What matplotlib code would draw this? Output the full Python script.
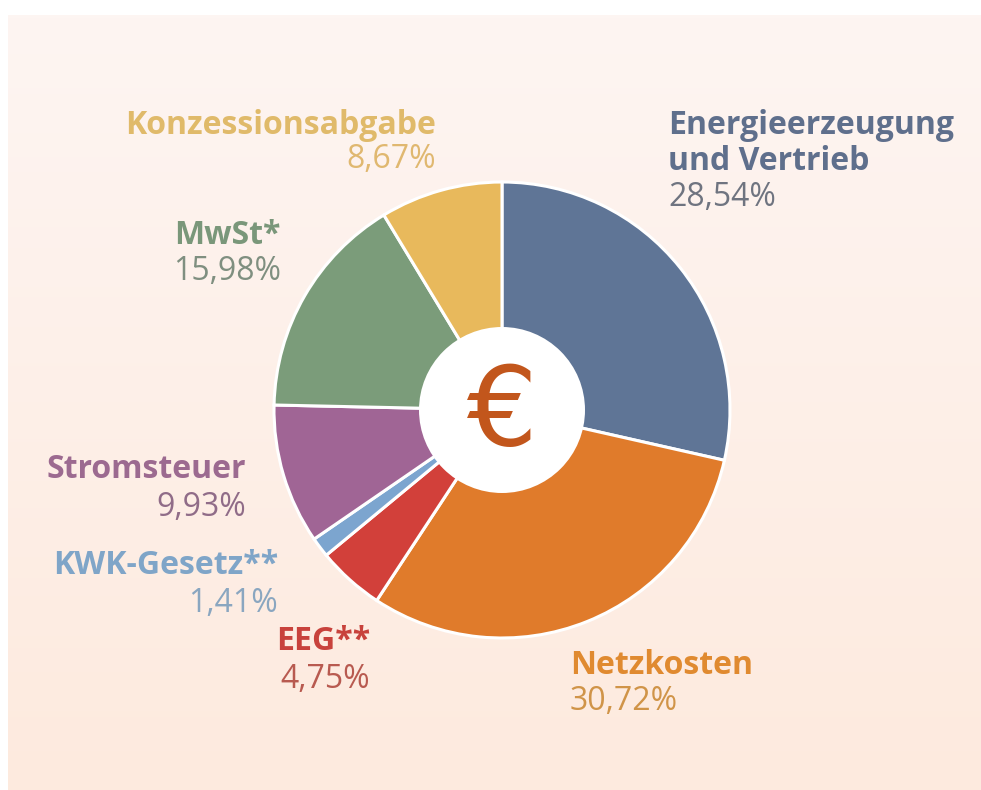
import numpy as np
import matplotlib.pyplot as plt
from matplotlib.patches import Circle

labels = ["Energieerzeugung\nund Vertrieb", "Netzkosten", "EEG**", "KWK-Gesetz**",
          "Stromsteuer", "MwSt*", "Konzessionsabgabe"]
shares = [28.54, 30.72, 4.75, 1.41, 9.93, 15.98, 8.67]
share_text = ["28,54%", "30,72%", "4,75%", "1,41%", "9,93%", "15,98%", "8,67%"]
wedge_colors = ["#5f7596", "#e07b2b", "#d2403a", "#7ca5cf", "#a06595", "#7b9c7a", "#e8b95c"]
text_colors = ["#5f6f8c", "#e08a30", "#c8423c", "#7fa5c8", "#9c6a90", "#7a977a", "#e0ba6a"]
pct_colors = ["#6f7480", "#d09448", "#b85a50", "#8aa6c0", "#906c88", "#7f8f80", "#e0b870"]

# label anchor (fig pixel x, y of first name line, y of percent line), alignment
label_pos = [(668, 125, 198, "left"), (570, 665, 702, "left"), (370, 642, 680, "right"),
             (278, 565, 604, "right"), (246, 469, 508, "right"), (281, 235, 272, "right"),
             (436, 125, 160, "right")]

W, H = 981, 790
fig = plt.figure(figsize=(W / 100, H / 100), dpi=100)
fig.patch.set_facecolor("white")

# background gradient panel
bg = fig.add_axes([8 / W, 0, 1 - 8 / W, 1 - 15 / H])
grad = np.linspace(0, 1, 256).reshape(-1, 1)
top = np.array([253, 245, 242]) / 255
bot = np.array([253, 234, 222]) / 255
img = top + (bot - top) * grad[:, :, None] * np.ones((1, 2, 1))
bg.imshow(img, aspect="auto", extent=[0, 1, 0, 1], origin="upper")
bg.axis("off")

# pie axes: center (502, 410), radius ~228 px
cx, cy, r = 502, 410, 228
ax = fig.add_axes([(cx - r) / W, (H - cy - r) / H, 2 * r / W, 2 * r / H])
ax.pie(shares, colors=wedge_colors, startangle=90, counterclock=False, radius=1,
       wedgeprops=dict(edgecolor="white", linewidth=2.2))
ax.add_patch(Circle((0, 0), 83 / r, facecolor="white", edgecolor="none", zorder=5))
ax.text(0, -0.02, "€", ha="center", va="center", fontsize=80, color="#c2561c",
        family="DejaVu Sans", zorder=6)
ax.set_xlim(-1, 1)
ax.set_ylim(-1, 1)
ax.set_aspect("equal")
ax.axis("off")

for name, pct, tc, pc, (x, y, py, ha) in zip(labels, share_text, text_colors, pct_colors, label_pos):
    for i, line in enumerate(name.split("\n")):
        fig.text(x / W, 1 - (y + i * 36) / H, line, ha=ha, va="center", fontsize=23,
                 fontweight="bold", color=tc, family="Open Sans")
    fig.text(x / W, 1 - py / H, pct, ha=ha, va="center", fontsize=23,
             color=pc, family="Open Sans")

fig.savefig("out.png", dpi=100)
